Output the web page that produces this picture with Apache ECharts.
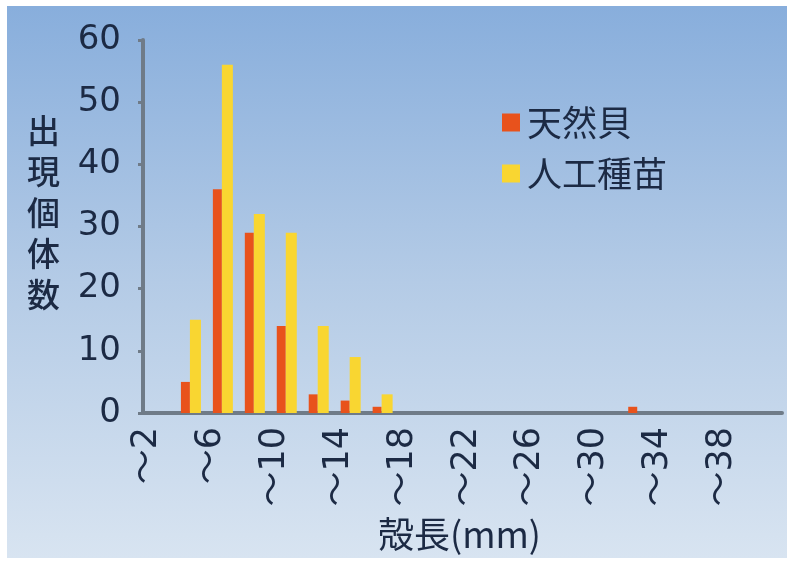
<!DOCTYPE html>
<html><head><meta charset="utf-8">
<script src="https://cdn.jsdelivr.net/npm/echarts@6/dist/echarts.min.js"></script>
<style>
html,body{margin:0;padding:0;background:#fff;}
#bg{position:absolute;left:7px;top:6px;width:780px;height:552px;background:linear-gradient(to bottom,#88aedc 0%,#b4cbe6 50%,#d8e4f1 100%);}
#c{position:absolute;left:0;top:0;width:792px;height:566px;}
</style></head>
<body><div id="bg"></div><div id="c"></div>
<script>
const categories = ["～2","～4","～6","～8","～10","～12","～14","～16","～18","～20","～22","～24","～26","～28","～30","～32","～34","～36","～38","～40"];
const naturalValues = [0,5,36,29,14,3,2,1,0,0,0,0,0,0,0,1,0,0,0,0];
const seedValues = [0,15,56,32,29,14,9,3,0,0,0,0,0,0,0,0,0,0,0,0];
const seriesNames = ["天然貝","人工種苗"];
const yAxisTitle = "出\n現\n個\n体\n数";
const xAxisTitle = "殻長(mm)";

const txt = '#1c2a44';
const axisCol = '#6f7b88';
const chart = echarts.init(document.getElementById('c'), null, {renderer:'canvas'});
chart.setOption({
  backgroundColor: 'transparent',
  animation: false,
  grid: {left:143, right:10, top:40, bottom:153},
  legend: {
    orient:'vertical', left:497, top:100, itemWidth:18, itemHeight:18, itemGap:16,
    icon:'rect',
    textStyle:{fontSize:35, color:txt, fontFamily:'Noto Sans CJK JP', lineHeight:34, padding:[0,0,0,2]},
    data: seriesNames
  },
  xAxis: {
    type:'category', data:categories,
    axisLine:{lineStyle:{color:axisCol, width:4}},
    axisTick:{interval:0, length:8, lineStyle:{color:axisCol, width:3}},
    axisLabel:{interval:1, rotate:90, margin:14, fontSize:35, color:txt, fontFamily:'DejaVu Sans, Noto Sans CJK JP', verticalAlign:'bottom', lineHeight:24}
  },
  yAxis: {
    type:'value', min:0, max:60, interval:10,
    splitLine:{show:false},
    axisLine:{show:true, lineStyle:{color:axisCol, width:4}},
    axisTick:{show:true, length:5, lineStyle:{color:axisCol, width:3}},
    axisLabel:{fontSize:34, color:txt, margin:22, fontFamily:'DejaVu Sans'}
  },
  graphic: [
    {type:'text', left:27, top:110, style:{text:yAxisTitle, fontSize:33, lineHeight:41, fill:txt, fontFamily:'Noto Sans CJK JP', fontWeight:500}},
    {type:'text', left:378, top:516, style:{text:xAxisTitle, fontSize:36, fill:txt, fontFamily:'Noto Sans CJK JP'}}
  ],
  series: [
    {name:seriesNames[0], type:'bar', data:naturalValues, barWidth:9, barGap:'0%', itemStyle:{color:'#e8521c'}},
    {name:seriesNames[1], type:'bar', data:seedValues, barWidth:11, itemStyle:{color:'#f9d631'}}
  ]
});
</script></body></html>
